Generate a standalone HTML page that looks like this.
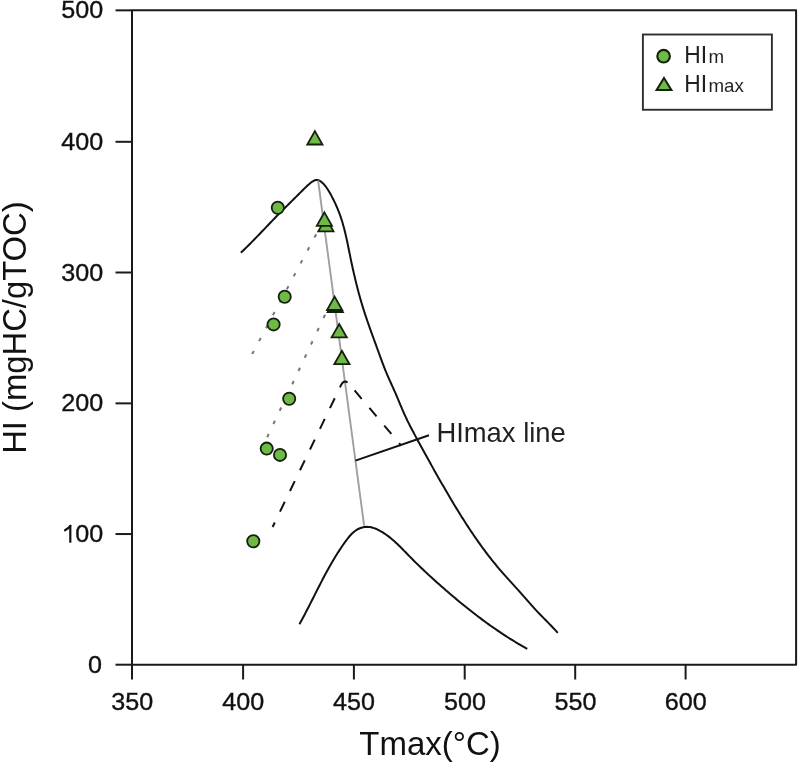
<!DOCTYPE html>
<html><head><meta charset="utf-8"><style>
html,body{margin:0;padding:0;background:#fff;}
body{width:800px;height:765px;overflow:hidden;font-family:"Liberation Sans",sans-serif;}
svg{display:block;will-change:transform;}
</style></head><body>
<svg width="800" height="765" viewBox="0 0 800 765">
<path d="M132,10.35 L796.1,10.35 L796.1,664.7 L132,664.7 Z" fill="none" stroke="#1a1a1a" stroke-width="2" stroke-linejoin="round"/>
<line x1="115.5" y1="664.70" x2="132" y2="664.70" stroke="#1a1a1a" stroke-width="2"/>
<line x1="115.5" y1="534.05" x2="132" y2="534.05" stroke="#1a1a1a" stroke-width="2"/>
<line x1="115.5" y1="403.36" x2="132" y2="403.36" stroke="#1a1a1a" stroke-width="2"/>
<line x1="115.5" y1="272.50" x2="132" y2="272.50" stroke="#1a1a1a" stroke-width="2"/>
<line x1="115.5" y1="141.80" x2="132" y2="141.80" stroke="#1a1a1a" stroke-width="2"/>
<line x1="115.5" y1="10.35" x2="132" y2="10.35" stroke="#1a1a1a" stroke-width="2"/>
<line x1="132.00" y1="664.7" x2="132.00" y2="679.5" stroke="#1a1a1a" stroke-width="2"/>
<line x1="243.10" y1="664.7" x2="243.10" y2="679.5" stroke="#1a1a1a" stroke-width="2"/>
<line x1="353.90" y1="664.7" x2="353.90" y2="679.5" stroke="#1a1a1a" stroke-width="2"/>
<line x1="464.70" y1="664.7" x2="464.70" y2="679.5" stroke="#1a1a1a" stroke-width="2"/>
<line x1="575.20" y1="664.7" x2="575.20" y2="679.5" stroke="#1a1a1a" stroke-width="2"/>
<line x1="685.60" y1="664.7" x2="685.60" y2="679.5" stroke="#1a1a1a" stroke-width="2"/>
<g font-family="Liberation Sans, sans-serif" font-size="23.8" fill="#111" stroke="#111" stroke-width="0.35">
<text transform="translate(101.90,672.80) scale(1.058,1)" text-anchor="end">0</text>
<text transform="translate(103.20,542.15) scale(1.058,1)" text-anchor="end">00</text>
<text transform="translate(103.20,411.46) scale(1.058,1)" text-anchor="end">200</text>
<text transform="translate(103.20,280.60) scale(1.058,1)" text-anchor="end">300</text>
<text transform="translate(103.20,149.90) scale(1.058,1)" text-anchor="end">400</text>
<text transform="translate(103.20,18.45) scale(1.058,1)" text-anchor="end">500</text>
<text transform="translate(132.20,709.5) scale(1.058,1)" text-anchor="middle">350</text>
<text transform="translate(243.30,709.5) scale(1.058,1)" text-anchor="middle">400</text>
<text transform="translate(354.10,709.5) scale(1.058,1)" text-anchor="middle">450</text>
<text transform="translate(464.90,709.5) scale(1.058,1)" text-anchor="middle">500</text>
<text transform="translate(575.40,709.5) scale(1.058,1)" text-anchor="middle">550</text>
<text transform="translate(685.80,709.5) scale(1.058,1)" text-anchor="middle">600</text>
</g>
<path d="M65.0,530.3 C67.3,529.1 69.3,527.6 70.3,525.8" fill="none" stroke="#111" stroke-width="2.2" stroke-linecap="round"/>
<line x1="70.3" y1="525.2" x2="70.3" y2="542.7" stroke="#111" stroke-width="2.2"/>
<text x="430" y="755.3" text-anchor="middle" font-family="Liberation Sans, sans-serif" font-size="33" fill="#111">Tmax(°C)</text>
<text transform="translate(25.6,327.6) rotate(-90) scale(0.97,1)" text-anchor="middle" font-family="Liberation Sans, sans-serif" font-size="33.8" fill="#111">HI (mgHC/gTOC)</text>
<path d="M240.88,252.68 L242.34,251.30 L243.80,249.91 L245.24,248.51 L246.68,247.10 L248.11,245.69 L249.54,244.27 L250.96,242.84 L252.38,241.41 L253.79,239.98 L255.19,238.54 L256.60,237.09 L258.00,235.65 L259.39,234.20 L260.79,232.75 L262.18,231.29 L263.57,229.84 L264.96,228.38 L266.35,226.92 L267.74,225.47 L269.13,224.01 L270.52,222.56 L271.92,221.11 L273.31,219.66 L274.71,218.21 L276.11,216.76 L277.52,215.32 L278.93,213.89 L280.34,212.45 L281.75,211.02 L283.17,209.60 L284.59,208.18 L286.02,206.76 L287.44,205.34 L288.87,203.92 L290.30,202.51 L291.72,201.09 L293.15,199.68 L294.58,198.27 L296.01,196.86 L297.43,195.44 L298.86,194.03 L300.28,192.62 L301.70,191.20 L303.11,189.78 L304.54,188.37 L306.00,186.96 L307.50,185.56 L309.05,184.17 L310.68,182.80 L312.39,181.54 L314.15,180.57 L315.94,180.03 L317.70,180.04 L319.40,180.63 L321.02,181.64 L322.52,182.90 L323.92,184.31 L325.23,185.85 L326.45,187.49 L327.60,189.20 L328.70,190.97 L329.75,192.77 L330.77,194.57 L331.75,196.37 L332.70,198.19 L333.62,200.00 L334.51,201.82 L335.37,203.65 L336.19,205.48 L336.99,207.31 L337.76,209.16 L338.51,211.01 L339.22,212.87 L339.91,214.74 L340.57,216.62 L341.20,218.51 L341.81,220.41 L342.39,222.31 L342.95,224.23 L343.49,226.16 L344.01,228.09 L344.51,230.03 L345.00,231.98 L345.47,233.93 L345.92,235.89 L346.37,237.85 L346.80,239.82 L347.22,241.79 L347.64,243.77 L348.05,245.74 L348.45,247.72 L348.85,249.70 L349.25,251.68 L349.65,253.66 L350.06,255.64 L350.46,257.62 L350.87,259.60 L351.28,261.58 L351.70,263.55 L352.12,265.52 L352.55,267.49 L352.99,269.46 L353.43,271.42 L353.87,273.39 L354.33,275.35 L354.79,277.31 L355.25,279.26 L355.73,281.22 L356.21,283.17 L356.69,285.12 L357.19,287.07 L357.69,289.02 L358.20,290.96 L358.72,292.90 L359.25,294.84 L359.79,296.77 L360.33,298.71 L360.88,300.64 L361.45,302.57 L362.02,304.49 L362.60,306.41 L363.20,308.33 L363.80,310.25 L364.41,312.17 L365.03,314.08 L365.66,315.99 L366.30,317.89 L366.95,319.80 L367.60,321.70 L368.26,323.60 L368.93,325.50 L369.60,327.40 L370.27,329.30 L370.95,331.20 L371.63,333.09 L372.32,334.98 L373.01,336.88 L373.70,338.77 L374.39,340.66 L375.08,342.55 L375.77,344.44 L376.46,346.34 L377.15,348.23 L377.83,350.12 L378.52,352.01 L379.20,353.90 L379.88,355.79 L380.57,357.68 L381.26,359.57 L381.95,361.46 L382.66,363.34 L383.37,365.22 L384.09,367.09 L384.83,368.96 L385.58,370.82 L386.35,372.68 L387.13,374.53 L387.93,376.38 L388.74,378.22 L389.56,380.05 L390.39,381.89 L391.22,383.72 L392.05,385.55 L392.88,387.39 L393.71,389.22 L394.53,391.06 L395.35,392.90 L396.15,394.75 L396.94,396.60 L397.72,398.46 L398.50,400.31 L399.27,402.17 L400.04,404.03 L400.82,405.88 L401.59,407.74 L402.38,409.59 L403.18,411.43 L403.99,413.28 L404.81,415.11 L405.65,416.93 L406.51,418.75 L407.38,420.56 L408.27,422.37 L409.17,424.17 L410.08,425.96 L411.01,427.75 L411.94,429.53 L412.88,431.32 L413.83,433.09 L414.78,434.87 L415.73,436.64 L416.69,438.41 L417.65,440.18 L418.61,441.95 L419.57,443.72 L420.54,445.49 L421.50,447.26 L422.47,449.02 L423.43,450.79 L424.40,452.55 L425.37,454.31 L426.35,456.08 L427.32,457.84 L428.29,459.60 L429.27,461.36 L430.25,463.11 L431.23,464.87 L432.21,466.63 L433.19,468.38 L434.18,470.14 L435.17,471.89 L436.15,473.64 L437.15,475.39 L438.14,477.14 L439.13,478.89 L440.13,480.64 L441.13,482.38 L442.13,484.13 L443.13,485.87 L444.14,487.61 L445.14,489.35 L446.15,491.09 L447.17,492.83 L448.19,494.56 L449.21,496.30 L450.23,498.03 L451.26,499.76 L452.29,501.49 L453.32,503.21 L454.36,504.94 L455.40,506.66 L456.45,508.37 L457.50,510.09 L458.55,511.80 L459.61,513.51 L460.68,515.22 L461.75,516.92 L462.82,518.63 L463.90,520.32 L464.99,522.02 L466.08,523.71 L467.17,525.40 L468.27,527.09 L469.38,528.77 L470.50,530.44 L471.61,532.12 L472.74,533.79 L473.87,535.45 L475.01,537.11 L476.16,538.77 L477.31,540.42 L478.47,542.06 L479.64,543.70 L480.81,545.34 L481.99,546.97 L483.18,548.59 L484.38,550.21 L485.58,551.82 L486.79,553.43 L488.01,555.03 L489.24,556.62 L490.48,558.21 L491.72,559.79 L492.97,561.36 L494.24,562.93 L495.51,564.49 L496.79,566.04 L498.08,567.58 L499.37,569.12 L500.68,570.65 L502.00,572.17 L503.32,573.68 L504.66,575.19 L506.00,576.68 L507.35,578.18 L508.70,579.67 L510.06,581.16 L511.42,582.64 L512.78,584.13 L514.14,585.61 L515.49,587.10 L516.85,588.58 L518.20,590.07 L519.55,591.57 L520.88,593.07 L522.22,594.58 L523.54,596.09 L524.86,597.61 L526.17,599.13 L527.48,600.66 L528.80,602.18 L530.12,603.69 L531.45,605.20 L532.78,606.70 L534.13,608.19 L535.50,609.67 L536.87,611.14 L538.26,612.59 L539.66,614.04 L541.07,615.48 L542.48,616.91 L543.90,618.35 L545.32,619.78 L546.73,621.21 L548.15,622.64 L549.55,624.08 L550.95,625.53 L552.34,626.99 L553.72,628.45 L555.09,629.93 L556.44,631.42 L557.77,632.93" fill="none" stroke="#111" stroke-width="2" stroke-linejoin="round"/>
<path d="M299.46,624.16 L300.46,622.36 L301.44,620.57 L302.41,618.77 L303.37,616.97 L304.33,615.17 L305.27,613.37 L306.21,611.57 L307.15,609.77 L308.07,607.97 L308.99,606.17 L309.91,604.38 L310.82,602.58 L311.73,600.78 L312.64,598.98 L313.55,597.19 L314.45,595.40 L315.35,593.60 L316.26,591.81 L317.16,590.02 L318.07,588.24 L318.98,586.45 L319.89,584.67 L320.81,582.88 L321.73,581.11 L322.65,579.33 L323.58,577.56 L324.52,575.78 L325.47,574.02 L326.42,572.25 L327.38,570.49 L328.35,568.73 L329.33,566.97 L330.32,565.22 L331.33,563.47 L332.34,561.73 L333.37,559.99 L334.41,558.25 L335.46,556.52 L336.53,554.80 L337.62,553.07 L338.72,551.36 L339.84,549.64 L340.97,547.94 L342.13,546.23 L343.30,544.54 L344.49,542.84 L345.71,541.16 L346.95,539.49 L348.22,537.85 L349.53,536.26 L350.90,534.74 L352.32,533.31 L353.81,531.98 L355.37,530.77 L357.01,529.69 L358.74,528.77 L360.54,528.02 L362.40,527.44 L364.30,527.05 L366.22,526.87 L368.15,526.89 L370.08,527.11 L372.01,527.52 L373.93,528.09 L375.83,528.80 L377.70,529.63 L379.55,530.56 L381.37,531.58 L383.14,532.66 L384.87,533.79 L386.55,534.95 L388.19,536.16 L389.80,537.40 L391.37,538.67 L392.91,539.97 L394.42,541.30 L395.90,542.66 L397.37,544.03 L398.81,545.42 L400.24,546.83 L401.66,548.25 L403.07,549.68 L404.47,551.12 L405.86,552.56 L407.26,554.01 L408.66,555.45 L410.06,556.89 L411.48,558.32 L412.89,559.75 L414.32,561.17 L415.75,562.59 L417.19,564.00 L418.63,565.41 L420.09,566.81 L421.54,568.21 L423.01,569.60 L424.47,570.99 L425.95,572.37 L427.43,573.75 L428.91,575.13 L430.40,576.49 L431.89,577.86 L433.39,579.22 L434.89,580.57 L436.40,581.92 L437.91,583.27 L439.42,584.61 L440.94,585.95 L442.46,587.29 L443.99,588.62 L445.51,589.94 L447.04,591.26 L448.58,592.58 L450.11,593.89 L451.65,595.20 L453.20,596.51 L454.74,597.81 L456.29,599.11 L457.84,600.40 L459.40,601.68 L460.96,602.97 L462.52,604.24 L464.09,605.51 L465.66,606.78 L467.23,608.04 L468.81,609.30 L470.39,610.55 L471.97,611.79 L473.56,613.03 L475.16,614.26 L476.76,615.49 L478.36,616.71 L479.97,617.92 L481.58,619.13 L483.20,620.33 L484.82,621.53 L486.45,622.71 L488.08,623.89 L489.72,625.07 L491.36,626.23 L493.01,627.39 L494.66,628.55 L496.32,629.69 L497.99,630.83 L499.66,631.95 L501.34,633.08 L503.02,634.19 L504.71,635.29 L506.40,636.39 L508.10,637.48 L509.81,638.56 L511.52,639.63 L513.24,640.69 L514.97,641.75 L516.70,642.79 L518.44,643.83 L520.19,644.85 L521.94,645.87 L523.70,646.88 L525.47,647.88 L527.25,648.86" fill="none" stroke="#111" stroke-width="2"/>
<line x1="318.1" y1="180.5" x2="364.1" y2="525.5" stroke="#a0a0a0" stroke-width="1.9"/>
<path d="M272.6,527 L340.9,385.4 Q344.3,378.2 349.4,384.25" fill="none" stroke="#111" stroke-width="2" stroke-dasharray="11 12" stroke-dashoffset="6"/>
<path d="M349.4,384.25 L401.2,445.6" fill="none" stroke="#111" stroke-width="2" stroke-dasharray="11 12" stroke-dashoffset="14.96"/>
<line x1="316.15" y1="234.31" x2="252.15" y2="354.09" stroke="#777" stroke-width="2.0" stroke-dasharray="3.60 11.09"/>
<line x1="325.07" y1="314.77" x2="267.13" y2="437.23" stroke="#777" stroke-width="2.0" stroke-dasharray="3.60 11.05"/>
<line x1="355.4" y1="460.6" x2="429.0" y2="435.2" stroke="#111" stroke-width="2"/>
<text x="436.4" y="441.7" font-family="Liberation Sans, sans-serif" font-size="27.4" fill="#231f20">HImax line</text>
<circle cx="277.8" cy="207.8" r="6.1" fill="#6fba46" stroke="#14200e" stroke-width="1.8"/>
<circle cx="284.7" cy="296.8" r="6.1" fill="#6fba46" stroke="#14200e" stroke-width="1.8"/>
<circle cx="273.6" cy="324.4" r="6.1" fill="#6fba46" stroke="#14200e" stroke-width="1.8"/>
<circle cx="289.2" cy="398.8" r="6.1" fill="#6fba46" stroke="#14200e" stroke-width="1.8"/>
<circle cx="266.7" cy="448.6" r="6.1" fill="#6fba46" stroke="#14200e" stroke-width="1.8"/>
<circle cx="280.0" cy="454.9" r="6.1" fill="#6fba46" stroke="#14200e" stroke-width="1.8"/>
<circle cx="253.3" cy="541.2" r="6.1" fill="#6fba46" stroke="#14200e" stroke-width="1.8"/>
<path d="M314.9,131.1 L322.5,144.5 L307.3,144.5 Z" fill="#6fba46" stroke="#14200e" stroke-width="1.8" stroke-linejoin="miter"/>
<path d="M325.9,217.9 L333.5,231.3 L318.3,231.3 Z" fill="#6fba46" stroke="#14200e" stroke-width="1.8" stroke-linejoin="miter"/>
<path d="M324.4,212.4 L332.0,225.8 L316.8,225.8 Z" fill="#6fba46" stroke="#14200e" stroke-width="1.8" stroke-linejoin="miter"/>
<path d="M335.3,298.6 L342.9,312.0 L327.7,312.0 Z" fill="#6fba46" stroke="#14200e" stroke-width="1.8" stroke-linejoin="miter"/>
<path d="M334.6,296.6 L342.2,310.0 L327.0,310.0 Z" fill="#6fba46" stroke="#14200e" stroke-width="1.8" stroke-linejoin="miter"/>
<path d="M339.2,324.0 L346.8,337.4 L331.6,337.4 Z" fill="#6fba46" stroke="#14200e" stroke-width="1.8" stroke-linejoin="miter"/>
<path d="M341.9,350.8 L349.5,364.2 L334.3,364.2 Z" fill="#6fba46" stroke="#14200e" stroke-width="1.8" stroke-linejoin="miter"/>
<rect x="642.9" y="34.5" width="129.0" height="75.25" fill="#fff" stroke="#322c2c" stroke-width="1.9"/>
<circle cx="663.6" cy="56.2" r="6.3" fill="#6fba46" stroke="#14200e" stroke-width="2.1"/>
<path d="M664,77.9 L671.4,89.9 L656.6,89.9 Z" fill="#6fba46" stroke="#14200e" stroke-width="2.0"/>
<g font-family="Liberation Sans, sans-serif" fill="#231f20">
<text transform="translate(684.30,63.3) scale(0.92,1)" font-size="24.8">HI</text>
<text transform="translate(708.60,63.3) scale(1.03,1)" font-size="18.2">m</text>
<text transform="translate(684.30,91.9) scale(0.92,1)" font-size="24.8">HI</text>
<text transform="translate(708.40,91.9) scale(1.03,1)" font-size="18.2">max</text>
</g>
</svg>
</body></html>
